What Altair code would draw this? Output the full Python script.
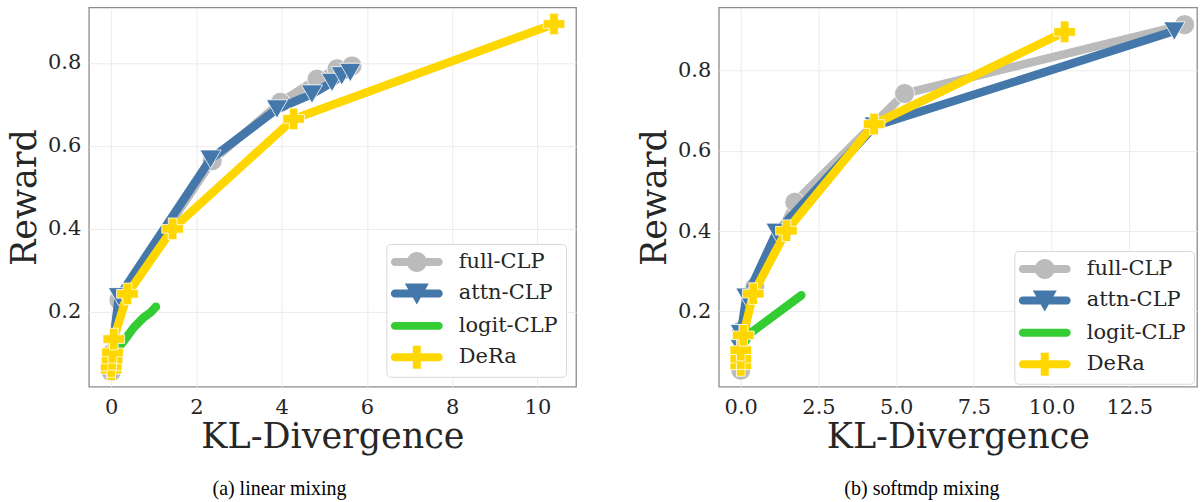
import altair as alt
import pandas as pd

# ---------------- data ----------------
methods = ["full-CLP", "attn-CLP", "logit-CLP", "DeRa"]

# (a) linear mixing
full_x_a = [0.0, 0.02, 0.18, 2.37, 3.97, 4.83, 5.30, 5.65]
full_y_a = [0.055, 0.10, 0.228, 0.564, 0.705, 0.761, 0.786, 0.793]
attn_x_a = [0.0, 0.04, 0.18, 2.33, 3.89, 4.71, 5.18, 5.41, 5.61]
attn_y_a = [0.065, 0.12, 0.236, 0.568, 0.689, 0.725, 0.753, 0.769, 0.777]
logit_x_a = [0.05, 0.14, 0.30, 0.53, 0.76, 0.92, 1.05]
logit_y_a = [0.10, 0.11, 0.13, 0.162, 0.186, 0.198, 0.212]
dera_x_a = [0.0, 0.0, 0.02, 0.03, 0.06, 0.38, 1.44, 4.28, 10.39]
dera_y_a = [0.060, 0.068, 0.085, 0.102, 0.134, 0.243, 0.400, 0.665, 0.894]

# (b) softmdp mixing
full_x_b = [0.0, 0.02, 0.45, 1.74, 5.27, 14.28]
full_y_b = [0.053, 0.152, 0.26, 0.472, 0.743, 0.915]
attn_x_b = [0.0, 0.0, 0.0, 0.18, 1.15, 4.31, 13.95]
attn_y_b = [0.08, 0.107, 0.144, 0.235, 0.397, 0.662, 0.899]
logit_x_b = [0.1, 0.3, 1.95]
logit_y_b = [0.12, 0.145, 0.24]
dera_x_b = [0.0, 0.0, 0.0, 0.08, 0.40, 1.47, 4.29, 10.42]
dera_y_b = [0.065, 0.082, 0.103, 0.14, 0.244, 0.401, 0.667, 0.897]

x_ticks_a = [0, 2, 4, 6, 8, 10]
x_ticks_b = [0, 2.5, 5, 7.5, 10, 12.5]
y_ticks = [0.2, 0.4, 0.6, 0.8]

# ---------------- styles ----------------
COLORS = {"full-CLP": "#BBBBBB", "attn-CLP": "#4477AA", "logit-CLP": "#33CC33", "DeRa": "#FFD700"}
SHAPES = {"full-CLP": "circle", "attn-CLP": "triangle-down", "logit-CLP": None, "DeRa": "cross"}
SIZES = {"full-CLP": 400, "attn-CLP": 450, "logit-CLP": 0, "DeRa": 470}

# legend symbols: line + marker as custom paths (unit = 10 px, symbolSize 400)
c = 1.25
L0, L1, t = c - 2.6, c + 2.6, 0.4
line_path = (f"M{L0+t:.3f},{-t} L{L1-t:.3f},{-t} A{t},{t} 0 0 1 {L1-t:.3f},{t} "
             f"L{L0+t:.3f},{t} A{t},{t} 0 0 1 {L0+t:.3f},{-t} Z")
r = 1.0
circle_path = f" M{c+r:.3f},0 A{r},{r} 0 1 1 {c-r:.3f},0 A{r},{r} 0 1 1 {c+r:.3f},0 Z"
tri_path = f" M{c-1.2:.3f},-1.0 L{c+1.2:.3f},-1.0 L{c:.3f},1.1 Z"
cross_path = f" M{c-0.4:.3f},-1.15 L{c+0.4:.3f},-1.15 L{c+0.4:.3f},1.15 L{c-0.4:.3f},1.15 Z"
LEG_PATHS = [line_path + circle_path, line_path + tri_path, line_path, line_path + cross_path]


def make_df(xs, ys):
    rows = []
    for m, xv, yv in zip(methods, xs, ys):
        for i, (a, b) in enumerate(zip(xv, yv)):
            rows.append({"method": m, "kl": a, "reward": b, "idx": i})
    return pd.DataFrame(rows)


df_a = make_df([full_x_a, attn_x_a, logit_x_a, dera_x_a], [full_y_a, attn_y_a, logit_y_a, dera_y_a])
df_b = make_df([full_x_b, attn_x_b, logit_x_b, dera_x_b], [full_y_b, attn_y_b, logit_y_b, dera_y_b])


def panel(df, xdom, xticks, xfmt, ydom, width, caption, dx, leg_offset):
    base = alt.Chart(df)
    X = alt.X("kl:Q", scale=alt.Scale(domain=xdom, nice=False, zero=False),
              axis=alt.Axis(values=xticks, format=xfmt, title="KL-Divergence"))
    Y = alt.Y("reward:Q", scale=alt.Scale(domain=ydom, nice=False, zero=False),
              axis=alt.Axis(values=y_ticks, format=".1f", title="Reward"))
    leg = alt.Legend(title=None, symbolOpacity=1, orient="bottom-right", offset=leg_offset)
    layers = [
        base.mark_point(filled=True, opacity=0).encode(
            x=X, y=Y,
            color=alt.Color("method:N", scale=alt.Scale(domain=methods, range=[COLORS[m] for m in methods]),
                            legend=leg),
            shape=alt.Shape("method:N", scale=alt.Scale(domain=methods, range=LEG_PATHS), legend=leg),
        )
    ]
    for m in methods:
        sub = base.transform_filter(alt.datum.method == m)
        layers.append(sub.mark_line(color=COLORS[m], strokeWidth=8.5, strokeCap="round",
                                    strokeJoin="round").encode(x=X, y=Y, order="idx:Q"))
        if SHAPES[m]:
            layers.append(sub.mark_point(shape=SHAPES[m], size=SIZES[m], filled=True, opacity=1,
                                         color=COLORS[m], stroke="white", strokeWidth=0.8)
                          .encode(x=X, y=Y))
    return alt.layer(*layers).properties(
        width=width, height=380,
        title=alt.TitleParams(caption, orient="bottom", anchor="middle", frame="group", dx=dx,
                              font="Liberation Serif", fontSize=20, fontWeight="normal",
                              color="black", offset=24),
    )


left = panel(df_a, [-0.525, 10.907], x_ticks_a, "d", [0.019, 0.934], 488, "(a) linear mixing", -53, 10)
right = panel(df_b, [-0.707, 14.68], x_ticks_b, ".1f", [0.0117, 0.958], 479, "(b) softmdp mixing", -36, 3)

chart = alt.hconcat(left, right, spacing=59).resolve_scale(
    color="independent", shape="independent"
).resolve_legend(
    color="independent", shape="independent"
).properties(
    padding={"left": 6, "top": 6, "right": 5, "bottom": 0},
    background="white",
).configure_view(
    stroke="#8c8c8c", strokeWidth=1.3
).configure_axis(
    labelFont="DejaVu Serif", labelFontSize=21, labelColor="#262626",
    titleFont="DejaVu Serif", titleFontSize=35, titleFontWeight="normal", titleColor="#262626",
    gridColor="#ebebeb", gridWidth=1, ticks=False, domain=False,
).configure_axisX(
    labelPadding=10, titlePadding=2
).configure_axisY(
    labelPadding=8, titlePadding=5
).configure_legend(
    padding=7.5, rowPadding=9.5,
    strokeColor="#d9d9d9", fillColor="white", cornerRadius=4,
    labelFont="DejaVu Serif", labelFontSize=21, labelColor="#262626",
    symbolSize=400, symbolStrokeWidth=0, labelOffset=44,
)

chart.save("out.html", embed_options={"renderer": "svg", "actions": False})
